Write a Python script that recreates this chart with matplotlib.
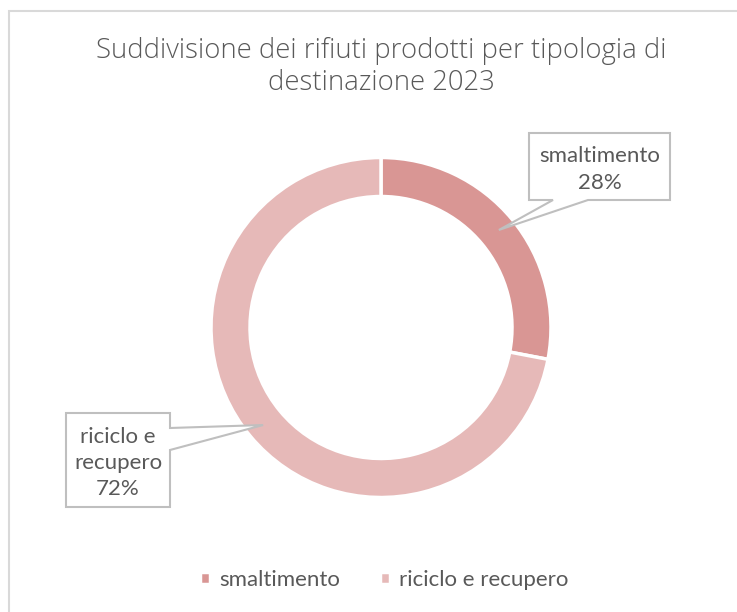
import numpy as np
import matplotlib
matplotlib.use("Agg")
import matplotlib.pyplot as plt
from matplotlib.patches import Polygon, Rectangle

plt.rcParams["font.family"] = ["Lato", "DejaVu Sans"]

categories = ["smaltimento", "riciclo e recupero"]
values = [28, 72]
colors = ["#D99694", "#E6B9B8"]
label_names = ["smaltimento\n28%", "riciclo e\nrecupero\n72%"]

W, H = 737, 612
fig = plt.figure(figsize=(W / 100, H / 100), dpi=100)

# chart border (only left and top visible in the reference)
fig.patches.append(Rectangle((9 / W, -0.1), 1.2, (H - 11) / H + 0.1, transform=fig.transFigure,
                             fill=False, edgecolor="#D9D9D9", lw=1.5))

# donut centre (381, 327.5) px, radius 170 px
cx, cy, R = 381, 327.5, 170
half = 200
ax = fig.add_axes([(cx - half) / W, (H - cy - half) / H, 2 * half / W, 2 * half / H])

wedges, _ = ax.pie(values, colors=colors, startangle=90, counterclock=False, radius=1,
                   wedgeprops=dict(width=39 / R, edgecolor="white", linewidth=2.5))
lim = half / R
ax.set_xlim(-lim, lim)
ax.set_ylim(-lim, lim)
ax.set_aspect("equal")
ax.axis("off")

def px(x, y):
    # pixel (top-left origin) -> data coords
    return ((x - cx) / R, (cy - y) / R)

# callout boxes: box (x0, y0, x1, y1) in px, pointer base on box edge
boxes = [
    dict(box=(529, 133, 670, 200), base=[(588, 200), (553, 200)], side="bottom"),
    dict(box=(66, 413, 170, 507), base=[(170, 428), (170, 450)], side="right"),
]

for w, lab, b in zip(wedges, label_names, boxes):
    ang = np.deg2rad((w.theta1 + w.theta2) / 2)
    tip = (0.9 * np.cos(ang), 0.9 * np.sin(ang))
    x0, y0, x1, y1 = b["box"]
    if b["side"] == "bottom":
        pts = [px(x0, y0), px(x1, y0), px(x1, y1), px(*b["base"][0]), tip, px(*b["base"][1]), px(x0, y1)]
    else:
        pts = [px(x0, y0), px(x1, y0), px(*b["base"][0]), tip, px(*b["base"][1]), px(x1, y1), px(x0, y1)]
    ax.add_patch(Polygon(pts, closed=True, facecolor="white", edgecolor="#BFBFBF", lw=1.5,
                         clip_on=False, zorder=5))
    tx, ty = px((x0 + x1) / 2, (y0 + y1) / 2 + 3)
    ax.text(tx, ty, lab, ha="center", va="center", fontsize=16, color="#595959",
            linespacing=1.4, zorder=6, clip_on=False)

fig.text(cx / W, 1 - 67 / H, "Suddivisione dei rifiuti prodotti per tipologia di\ndestinazione 2023",
         ha="center", va="center", fontsize=19.8, color="#595959", fontweight="light",
         family=["Open Sans", "DejaVu Sans"], linespacing=1.2)

leg = fig.legend(wedges, categories, loc="center", bbox_to_anchor=(384 / W, 1 - 580 / H),
                 ncol=2, frameon=False, fontsize=16, labelcolor="#595959",
                 handlelength=0.45, handleheight=0.45, handletextpad=0.4, columnspacing=1.8)

fig.savefig("out.png", dpi=100, facecolor="white")
